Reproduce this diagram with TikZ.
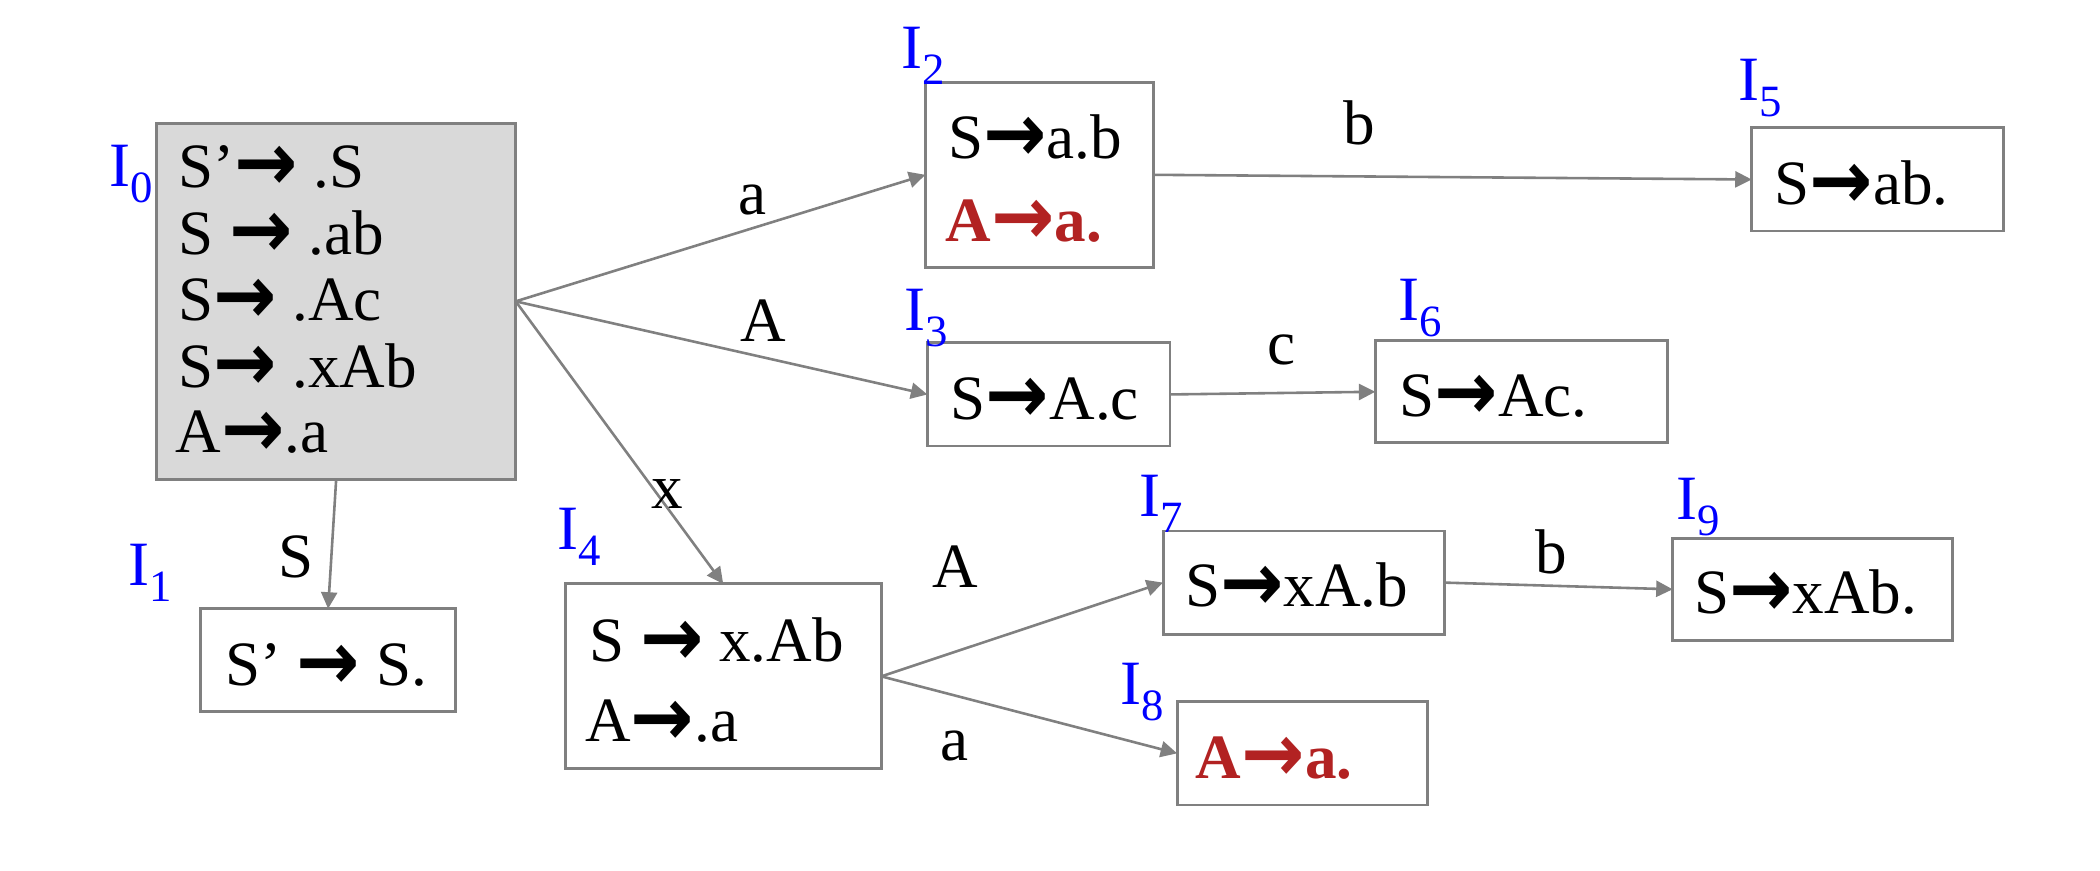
\documentclass[tikz,border=0pt]{standalone}
\usepackage{fontspec}
\setmainfont{Liberation Serif}
\newfontfamily\arrowfont{DejaVu Sans}
\usetikzlibrary{arrows.meta}
\definecolor{boxgray}{RGB}{128,128,128}
\definecolor{fillgray}{RGB}{217,217,217}
\definecolor{itemred}{RGB}{178,34,34}
\definecolor{lblblue}{RGB}{0,0,255}
\newcommand{\arw}{{\arrowfont\bfseries\raisebox{-0.1ex}{\scalebox{1.2}[1.3]{→}}}}
\newcommand{\setname}[1]{I\raisebox{-0.55ex}{\fontsize{9.5}{10}\selectfont #1}}
\begin{document}
\begin{tikzpicture}[x=0.01cm,y=-0.01cm,
  every node/.style={font=\fontsize{13.4}{16}\selectfont, inner sep=0pt, outer sep=0pt},
  statebox/.style={draw=boxgray, line width=0.6pt, fill=white},
  item/.style={anchor=base west},
  reditem/.style={anchor=base west, text=itemred, font=\fontsize{13.4}{16}\selectfont\bfseries},
  setlabel/.style={anchor=base west, text=lblblue},
  edgelabel/.style={anchor=base},
  trans/.style={draw=boxgray, line width=0.55pt, -{Triangle[length=3.5pt, width=3.4pt]}}]
\useasboundingbox (0,0) rectangle (1568,650);
% boxes
\node[statebox, fill=fillgray, minimum width=2.68cm, minimum height=2.66cm] (i0) at (251,225) {};
\node[statebox, minimum width=1.90cm, minimum height=0.77cm] (i1) at (245,493) {};
\node[statebox, minimum width=1.70cm, minimum height=1.38cm] (i2) at (776,130.5) {};
\node[statebox, minimum width=1.81cm, minimum height=0.77cm] (i3) at (783,294.5) {};
\node[statebox, minimum width=2.36cm, minimum height=1.38cm] (i4) at (540,505) {};
\node[statebox, minimum width=1.88cm, minimum height=0.77cm] (i5) at (1402,134) {};
\node[statebox, minimum width=2.18cm, minimum height=0.76cm] (i6) at (1136,292.5) {};
\node[statebox, minimum width=2.10cm, minimum height=0.77cm] (i7) at (973.5,435) {};
\node[statebox, minimum width=1.87cm, minimum height=0.77cm] (i8) at (972.5,562.5) {};
\node[statebox, minimum width=2.09cm, minimum height=0.76cm] (i9) at (1353.5,440) {};
% items
\node[item] (t0a) at (133,140) {S’\arw\ .S};
\node[item] (t0b) at (133,190) {S \arw\ .ab};
\node[item] (t0c) at (133,239) {S\arw\ .Ac};
\node[item] (t0d) at (133,289) {S\arw\ .xAb};
\node[item] (t0e) at (131,338) {A\arw.a};
\node[item] (t1) at (168,512) {S’ \arw\ S.};
\node[item] (t2a) at (708,118) {S\arw a.b};
\node[reditem] (t2b) at (706,180) {A\arw a.};
\node[item] (t3) at (710,313) {S\arw A.c};
\node[item] (t4a) at (440,494) {S \arw\ x.Ab};
\node[item] (t4b) at (437,554) {A\arw.a};
\node[item] (t5) at (1325,153) {S\arw ab.};
\node[item] (t6) at (1045,311) {S\arw Ac.};
\node[item] (t7) at (885,453) {S\arw xA.b};
\node[reditem] (t8) at (893,581) {A\arw a.};
\node[item] (t9) at (1265,458) {S\arw xAb.};
% set labels
\node[setlabel] (l0) at (82,139) {\setname{0}};
\node[setlabel] (l1) at (96,437) {\setname{1}};
\node[setlabel] (l2) at (673,51) {\setname{2}};
\node[setlabel] (l3) at (675,247) {\setname{3}};
\node[setlabel] (l4) at (416,410) {\setname{4}};
\node[setlabel] (l5) at (1298,75) {\setname{5}};
\node[setlabel] (l6) at (1044,239) {\setname{6}};
\node[setlabel] (l7) at (851,386) {\setname{7}};
\node[setlabel] (l8) at (837,526) {\setname{8}};
\node[setlabel] (l9) at (1252,388) {\setname{9}};
% transitions
\draw[trans] (i0.east) -- (i2.west);
\draw[trans] (i0.east) -- (i3.west);
\draw[trans] (i0.east) -- (i4.north);
\draw[trans] (i0.south) -- (i1.north);
\draw[trans] (i2.east) -- (i5.west);
\draw[trans] (i3.east) -- (i6.west);
\draw[trans] (i4.east) -- (i7.west);
\draw[trans] (i4.east) -- (i8.west);
\draw[trans] (i7.east) -- (i9.west);
% edge labels
\node[edgelabel] (ea) at (562,160) {a};
\node[edgelabel] (eA) at (570,255) {A};
\node[edgelabel] (ex) at (498,380) {x};
\node[edgelabel] (eS) at (221,431) {S};
\node[edgelabel] (eb) at (1015,108) {b};
\node[edgelabel] (ec) at (957,272) {c};
\node[edgelabel] (eA2) at (713,439) {A};
\node[edgelabel] (ea2) at (713,568) {a};
\node[edgelabel] (eb2) at (1158,428) {b};
\end{tikzpicture}
\end{document}
